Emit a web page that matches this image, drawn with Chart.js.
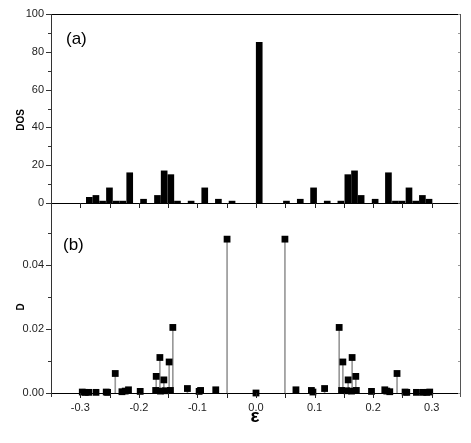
<!DOCTYPE html>
<html>
<head>
<meta charset="utf-8">
<script src="https://cdn.jsdelivr.net/npm/chart.js@4/dist/chart.umd.min.js"></script>
<style>
html,body{margin:0;padding:0;background:#fff;}
#wrap{width:471px;height:443px;position:relative;}
</style>
</head>
<body>
<div id="wrap"><canvas id="c" width="471" height="443"></canvas></div>
<script>
// ---- Panel (a): density of states histogram ----
const dosEps = [-0.2846,-0.2733,-0.2619,-0.2502,-0.2386,-0.2273,-0.2156,-0.1920,-0.1682,-0.1568,-0.1454,-0.1341,-0.1108,-0.0875,-0.0642,-0.0409,
                0.0055,
                0.0520,0.0756,0.0983,0.1216,0.1449,0.1568,0.1682,0.1795,0.2034,0.2261,0.2381,0.2494,0.2612,0.2727,0.2841,0.2954];
const dosVals = [3,4,1,8,1,1,16,2,4,17,15,1,1,8,2,1,
                 85,
                 1,2,8,1,1,15,17,4,2,16,1,1,8,1,4,2];

// ---- Panel (b): D values ----
const dEps = [-0.2966,-0.2915,-0.2858,-0.2732,-0.2557,-0.2534,-0.2403,-0.2289,-0.2233,-0.2177,-0.1977,
              -0.1713,-0.1704,-0.1641,-0.1631,-0.1573,-0.1546,-0.1483,-0.1461,-0.1420,-0.1171,-0.0971,-0.0946,-0.0687,-0.0494,
              0.0000,
              0.0494,0.0682,0.0946,0.0972,0.1171,0.1420,0.1461,0.1483,0.1546,0.1573,0.1631,0.1641,0.1704,0.1713,
              0.1972,0.2199,0.2233,0.2284,0.2408,0.2545,0.2574,0.2739,0.2852,0.2915,0.2966];
const dVals = [0.0003,0.0002,0.0002,0.0002,0.0003,0.0002,0.0061,0.0004,0.0006,0.0010,0.0005,
               0.0008,0.0052,0.0111,0.0006,0.0041,0.0007,0.0097,0.0008,0.0205,0.0014,0.0005,0.0008,0.0010,0.0481,
               0.0000,
               0.0481,0.0010,0.0008,0.0003,0.0014,0.0205,0.0008,0.0097,0.0007,0.0041,0.0006,0.0111,0.0052,0.0008,
               0.0005,0.0010,0.0006,0.0004,0.0061,0.0003,0.0002,0.0002,0.0002,0.0002,0.0003];

// ---- Tick labels ----
const xTickValues = [-0.3,-0.2,-0.1,0.0,0.1,0.2,0.3];
const xMarkValues = [-0.3,-0.25,-0.2,-0.15,-0.1,-0.05,0,0.05,0.1,0.15,0.2,0.25,0.3];
const dosTickValues = [0,20,40,60,80,100];
const dosMinorValues = [10,30,50,70,90];
const dTickValues = [0,0.02,0.04];
const dMinorValues = [0.01,0.03,0.05];

const FONT = "'Liberation Sans', Arial, sans-serif";

const framePlugin = {
  id: 'frame',
  afterDraw(chart) {
    const ctx = chart.ctx;
    const {x, y1, y2} = chart.scales;
    const ca = chart.chartArea;
    const L = Math.round(ca.left), R = Math.round(ca.right) - 1;
    const top = Math.round(y1.getPixelForValue(100));
    const mid = Math.round(y1.getPixelForValue(0));
    const bot = Math.round(y2.getPixelForValue(0));
    ctx.save();
    // horizontal lines
    ctx.fillStyle = '#000';
    [top, mid, bot].forEach(yy => ctx.fillRect(L, yy, R - L + 1, 1));
    // left & right axes
    ctx.fillStyle = '#333';
    ctx.fillRect(L, top, 1, bot - top + 4);
    ctx.fillStyle = '#555';
    ctx.fillRect(R, top, 1, bot - top + 4);
    // x ticks (downward) on both panel bottoms
    ctx.fillStyle = '#222';
    xMarkValues.forEach(v => {
      const px = Math.round(x.getPixelForValue(v));
      [mid, bot].forEach(yy => ctx.fillRect(px, yy, 1, 5));
    });
    // y ticks
    const yt = (scale, vals, len) => vals.forEach(v => {
      const py = Math.round(scale.getPixelForValue(v));
      ctx.fillStyle = '#333';
      ctx.fillRect(L - len, py, len, 1);
      ctx.fillStyle = '#999';
      ctx.fillRect(R - 2, py, 2, 1);
    });
    yt(y1, dosTickValues, 5); yt(y1, dosMinorValues, 3);
    yt(y2, dTickValues, 5); yt(y2, dMinorValues, 3);
    // titles
    ctx.fillStyle = '#000';
    ctx.font = 'bold 10px ' + FONT;
    ctx.textAlign = 'center'; ctx.textBaseline = 'middle';
    ctx.save(); ctx.translate(21, 120); ctx.rotate(-Math.PI/2); ctx.fillText('DOS', 0, 0); ctx.restore();
    ctx.save(); ctx.translate(21, 307); ctx.rotate(-Math.PI/2); ctx.fillText('D', 0, 0); ctx.restore();
    ctx.font = 'bold 19px ' + FONT;
    ctx.fillText('ε', 255, 417);
    ctx.font = '17px ' + FONT;
    ctx.textAlign = 'left'; ctx.textBaseline = 'alphabetic';
    ctx.fillText('(a)', 66, 44);
    ctx.fillText('(b)', 63, 250);
    ctx.restore();
  }
};

const setTicks = vals => scale => { scale.ticks = vals.map(v => ({value: v})); };

new Chart(document.getElementById('c'), {
  type: 'bar',
  data: {
    datasets: [
      {
        type: 'bar', xAxisID: 'x', yAxisID: 'y1', order: 3,
        data: dosEps.map((e, i) => ({x: e, y: dosVals[i]})),
        backgroundColor: '#000', barThickness: 6, grouped: false
      },
      {
        type: 'bar', xAxisID: 'x', yAxisID: 'y2', order: 2,
        data: dEps.map((e, i) => ({x: e, y: dVals[i]})),
        backgroundColor: '#999', barThickness: 1, grouped: false
      },
      {
        type: 'scatter', xAxisID: 'x', yAxisID: 'y2', order: 1,
        data: dEps.map((e, i) => ({x: e, y: dVals[i]})),
        pointStyle: 'rect', pointRadius: 4.8,
        pointBackgroundColor: '#000', backgroundColor: '#000',
        pointBorderColor: '#000', borderColor: '#000', pointBorderWidth: 0, borderWidth: 0,
        showLine: false, clip: false
      }
    ]
  },
  options: {
    responsive: false, animation: false,
    layout: {padding: {top: 14, right: 10, left: 0, bottom: 0}},
    plugins: {legend: {display: false}, tooltip: {enabled: false}},
    scales: {
      x: {
        type: 'linear', min: -0.35, max: 0.35, offset: false,
        afterBuildTicks: setTicks(xTickValues),
        afterFit: s => { s.height = 50; },
        grid: {display: false, drawTicks: false}, border: {display: false},
        ticks: {padding: 8, color: '#222', font: {family: FONT, size: 11},
                callback: v => (Math.abs(v) < 1e-9 ? 0 : v).toFixed(1)}
      },
      y2: {
        type: 'linear', position: 'left', stack: 'panels', stackWeight: 190,
        min: 0, max: 0.0594,
        afterBuildTicks: setTicks(dTickValues),
        afterFit: s => { s.width = 51; },
        grid: {display: false, drawTicks: false}, border: {display: false},
        ticks: {padding: 7, color: '#222', font: {family: FONT, size: 11},
                callback: v => v.toFixed(2)}
      },
      y1: {
        type: 'linear', position: 'left', stack: 'panels', stackWeight: 189,
        min: 0, max: 100,
        afterBuildTicks: setTicks(dosTickValues),
        afterFit: s => { s.width = 51; },
        grid: {display: false, drawTicks: false}, border: {display: false},
        ticks: {padding: 7, color: '#222', font: {family: FONT, size: 11}}
      }
    }
  },
  plugins: [framePlugin]
});
</script>
</body>
</html>
